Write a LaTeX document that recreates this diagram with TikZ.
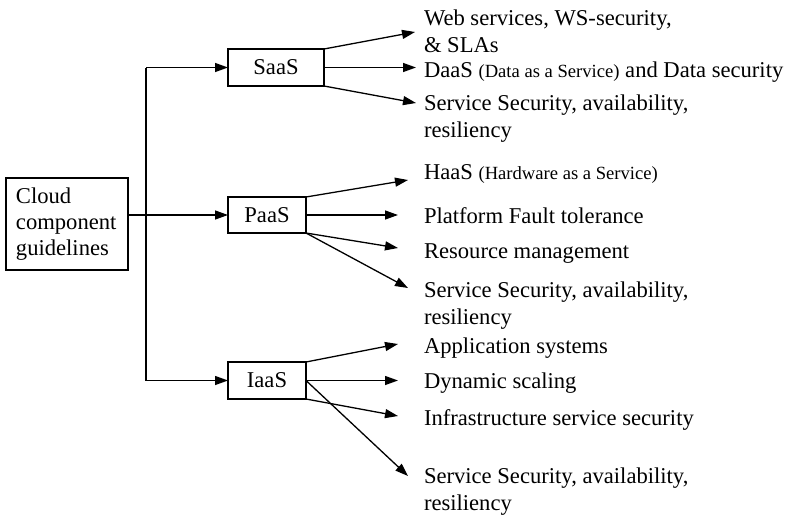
\documentclass[tikz,border=0pt]{standalone}
\usepackage{fontspec}
\setmainfont{Liberation Serif}
\usetikzlibrary{arrows.meta}

\tikzset{
  box/.style={draw, line width=1.2pt, outer sep=0pt, inner sep=0pt},
  conn/.style={line width=1.3pt},
  arr/.style={conn, -{Triangle[length=13pt,width=9pt]}},
  item/.style={anchor=base west, inner sep=0pt, outer sep=0pt},
}
\newcommand{\itemfont}{\fontsize{22.6}{27}\selectfont}
\newcommand{\parenfont}{\fontsize{18.6}{23}\selectfont}
\newcommand{\lines}[1]{\begin{tabular}[t]{@{}l@{}}#1\end{tabular}}

\begin{document}
\begin{tikzpicture}[x=1pt,y=-1pt,font=\itemfont]
\useasboundingbox (0,0) rectangle (787,514);

% root and service-model boxes
\node[box, minimum width=122pt, minimum height=92pt, text width=102pt,
      inner xsep=10pt, align=left, font=\fontsize{22.6}{26}\selectfont]
      (cloud) at (67,224) {Cloud\\component\\guidelines};
\node[box, minimum width=96pt, minimum height=37pt] (saas) at (276,67.5) {SaaS};
\node[box, minimum width=78pt, minimum height=36pt] (paas) at (267,215) {PaaS};
\node[box, minimum width=78pt, minimum height=37pt] (iaas) at (267,380.5) {IaaS};

% trunk from the root to the three models
\coordinate (trunk) at (146,0);
\draw[conn] (trunk |- iaas.west) -- (trunk |- saas.west);
\draw[arr] (trunk |- saas.west) -- (saas.west);
\draw[arr] (trunk |- iaas.west) -- (iaas.west);
\draw[arr] (paas.west -| cloud.east) -- (paas.west);

% SaaS items
\node[item] (s1) at (424,25) {\lines{Web services, WS-security,\\\& SLAs}};
\node[item] (s2) at (424,77) {DaaS {\parenfont(Data as a Service)} and Data security};
\node[item] (s3) at (424,110) {\lines{Service Security, availability,\\resiliency}};
\coordinate (s1t) at (415,32);
\coordinate (s2t) at (416,67.5);
\coordinate (s3t) at (416,103);
\draw[arr] (saas.north east) -- (s1t);
\draw[arr] (saas.east) -- (s2t);
\draw[arr] (saas.south east) -- (s3t);

% PaaS items
\node[item] (p1) at (424,179) {HaaS {\parenfont(Hardware as a Service)}};
\node[item] (p2) at (424,223) {Platform Fault tolerance};
\node[item] (p3) at (424,258) {Resource management};
\node[item] (p4) at (424,297) {\lines{Service Security, availability,\\resiliency}};
\coordinate (p1t) at (408,180);
\coordinate (p2t) at (398,215);
\coordinate (p3t) at (398,248);
\coordinate (p4t) at (408,288);
\draw[arr] (paas.north east) -- (p1t);
\draw[arr] (paas.east) -- (p2t);
\draw[arr] (paas.south east) -- (p3t);
\draw[arr] (paas.south east) -- (p4t);

% IaaS items
\node[item] (i1) at (424,353) {Application systems};
\node[item] (i2) at (424,388) {Dynamic scaling};
\node[item] (i3) at (424,425) {Infrastructure service security};
\node[item] (i4) at (424,483) {\lines{Service Security, availability,\\resiliency}};
\coordinate (i1t) at (398,344);
\coordinate (i2t) at (398,380.5);
\coordinate (i3t) at (398,416);
\coordinate (i4t) at (408,476);
\draw[arr] (iaas.north east) -- (i1t);
\draw[arr] (iaas.east) -- (i2t);
\draw[arr] (iaas.south east) -- (i3t);
\draw[arr] (iaas.east) -- (i4t);
\end{tikzpicture}
\end{document}
